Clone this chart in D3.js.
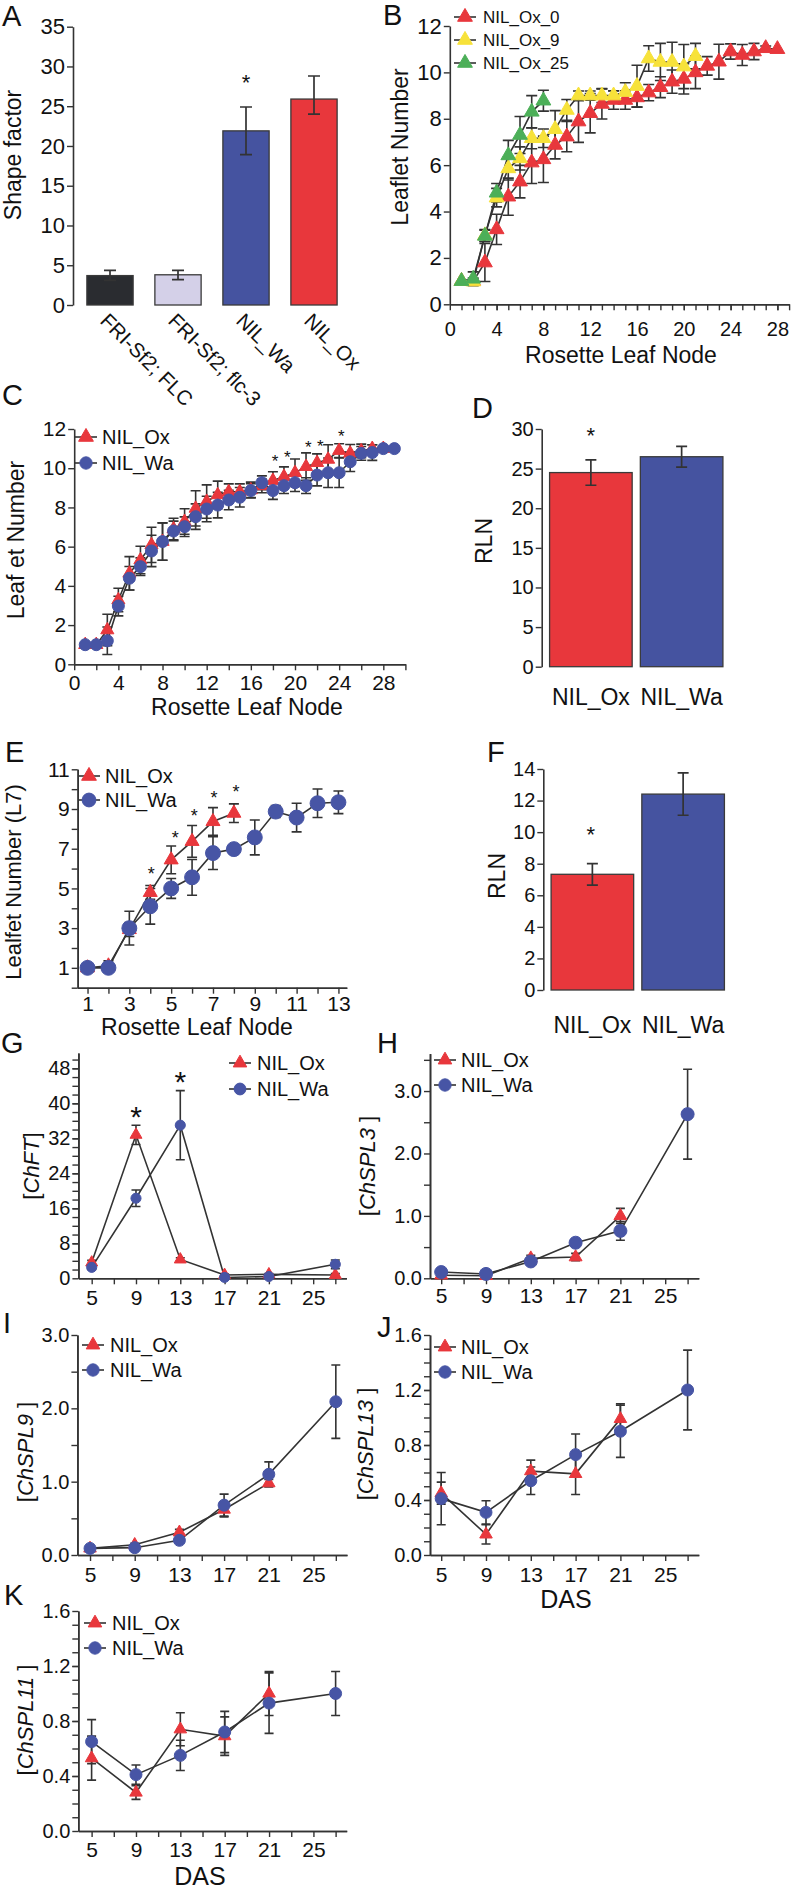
<!DOCTYPE html>
<html><head><meta charset="utf-8">
<script src="https://cdn.jsdelivr.net/npm/d3@7"></script>
<style>
body{margin:0;background:#fff;}
svg{display:block;}
</style></head><body>
<svg id="fig" width="796" height="1897"></svg>
<script>
// ---------------- DATA ----------------
// Panel A
const A_categories = ["FRI-Sf2; FLC", "FRI-Sf2; flc-3", "NIL_Wa", "NIL_Ox"];
const A_values = [3.7, 3.8, 21.9, 25.9];
const A_errLow = [3.1, 3.2, 18.9, 24.0];
const A_errHigh = [4.35, 4.35, 24.9, 28.8];
const A_yTicks = [0, 5, 10, 15, 20, 25, 30, 35];

// Panel B
const B_x0 = [1,2,3,4,5,6,7,8,9,10,11,12,13,14,15,16,17,18,19,20,21,22,23,24,25,26,27,28];
const B_ox0 = [1.0,1.0,1.8,3.23,4.64,5.29,6.11,6.25,6.87,7.23,7.88,8.24,8.64,8.81,8.81,8.92,9.13,9.36,9.6,9.72,10.0,10.28,10.46,10.9,10.75,10.9,11.04,11.0];
const B_ox0_se = [0,0,0.82,0.65,0.8,0.7,0.9,1.0,0.6,0.65,0.9,0.85,0.65,0.4,0.4,0.42,0.35,0.45,0.5,0.65,0.7,0.4,0.75,0.33,0.45,0.35,0.1,0];
const B_x9 = [1,2,3,4,5,6,7,8,9,10,11,12,13,14,15,16,17,18,19,20,21];
const B_ox9 = [1.0,0.98,2.97,4.6,5.86,6.29,7.16,7.16,7.55,8.38,9.0,9.0,9.0,9.0,9.15,9.41,10.6,10.45,10.45,10.25,10.7];
const B_ox9_se = [0,0.15,0.25,0.4,0.5,0.5,0.45,0.4,0.8,0.45,0.2,0.2,0.3,0.2,0.4,0.9,0.55,0.8,0.85,0.95,0.55];
const B_x25 = [1,2,3,4,5,6,7,8];
const B_ox25 = [1.0,1.1,2.95,4.81,6.42,7.3,8.3,8.78];
const B_ox25_se = [0,0.3,0.25,0.4,0.65,0.8,0.7,0.45];
const B_labels = ["NIL_Ox_0", "NIL_Ox_9", "NIL_Ox_25"];

// Panel C
const C_xOx = [1,2,3,4,5,6,7,8,9,10,11,12,13,14,15,16,17,18,19,20,21,22,23,24,25,26,27,28];
const C_ox = [1.0,1.0,1.75,3.28,4.64,5.32,6.09,6.26,6.9,7.28,7.95,8.3,8.64,8.8,8.8,8.89,9.1,9.37,9.57,9.77,10.08,10.28,10.45,10.9,10.76,10.88,11.0,11.0];
const C_ox_se = [0,0,0.8,0.6,0.85,0.7,0.9,0.95,0.55,0.65,0.9,0.85,0.7,0.4,0.4,0.4,0.35,0.45,0.5,0.7,0.7,0.45,0.75,0.35,0.45,0.35,0.2,0];
const C_xWa = [1,2,3,4,5,6,7,8,9,10,11,12,13,14,15,16,17,18,19,20,21,22,23,24,25,26,27,28,29];
const C_wa = [1.0,1.0,1.2,2.97,4.39,4.98,5.78,6.26,6.8,7.02,7.53,7.92,8.12,8.38,8.52,8.86,9.26,8.86,9.11,9.26,9.11,9.65,9.77,9.77,10.33,10.76,10.8,11.0,11.0];
const C_wa_se = [0,0,0.7,0.5,0.6,0.45,0.8,0.95,0.5,0.5,0.65,0.65,0.65,0.5,0.5,0.35,0.35,0.45,0.4,0.45,0.4,0.55,0.75,0.75,0.5,0.35,0.4,0,0];
const C_starX = [18.2, 19.3, 21.2, 22.3, 24.2];
const C_starY = [10.55, 10.76, 11.3, 11.35, 11.86];

// Panel D
const D_categories = ["NIL_Ox", "NIL_Wa"];
const D_values = [24.5, 26.5];
const D_se = [1.6, 1.3];

// Panel E
const E_xOx = [1,2,3,4,5,6,7,8];
const E_ox = [1.0,1.1,2.93,4.8,6.44,7.37,8.37,8.79];
const E_ox_se = [0,0.25,0.35,0.35,0.7,0.8,0.7,0.47];
const E_xWa = [1,2,3,4,5,6,7,8,9,10,11,12,13];
const E_wa = [1.0,1.0,3.0,4.1,5.0,5.56,6.78,6.98,7.57,8.87,8.57,9.29,9.34];
const E_wa_se = [0,0,0.85,0.9,0.5,0.9,0.83,0,0.88,0.3,0.72,0.72,0.57];
const E_starX = [4.05, 5.2, 6.1, 7.05, 8.1];
const E_starY = [5.94, 7.78, 8.87, 9.79, 10.1];

// Panel F
const F_categories = ["NIL_Ox", "NIL_Wa"];
const F_values = [7.33, 12.41];
const F_se = [0.68, 1.34];

// Expression panels (DAS)
const DAS_ox = [5, 9, 13, 17, 21];
const DAS_wa = [5, 9, 13, 17, 21, 27];
const DAS_ticks = [5, 9, 13, 17, 21, 25];
const G_ox = [3.6, 32.8, 4.3, 0.76, 0.9, 0.76];
const G_ox_se = [0.5, 2.2, 0.4, 0.2, 0.2, 0.3];
const G_xOx = [5, 9, 13, 17, 21, 27];
const G_wa = [2.5, 18.3, 35.0, 0.2, 0.4, 3.2];
const G_wa_se = [0.5, 1.9, 7.9, 0.2, 0.2, 1.0];
const G_starX = [9, 13];
const G_starY = [38.5, 46.5];
const H_ox = [0.05, 0.04, 0.32, 0.34, 1.0];
const H_ox_se = [0.02, 0.02, 0.05, 0.06, 0.12];
const H_wa = [0.1, 0.07, 0.27, 0.57, 0.76, 2.63];
const H_wa_se = [0.02, 0.02, 0.03, 0.04, 0.15, 0.72];
const I_ox = [0.09, 0.14, 0.31, 0.62, 0.98];
const I_ox_se = [0.02, 0.02, 0.04, 0.1, 0.05];
const I_wa = [0.09, 0.1, 0.2, 0.68, 1.1, 2.09];
const I_wa_se = [0.02, 0.02, 0.03, 0.15, 0.17, 0.5];
const J_ox = [0.45, 0.15, 0.61, 0.59, 0.99];
const J_ox_se = [0.08, 0.07, 0.08, 0.15, 0.11];
const J_wa = [0.41, 0.31, 0.54, 0.73, 0.9, 1.2];
const J_wa_se = [0.19, 0.085, 0.1, 0.15, 0.19, 0.29];
const K_ox = [0.53, 0.28, 0.74, 0.69, 1.0];
const K_ox_se = [0.16, 0.05, 0.12, 0.14, 0.16];
const K_wa = [0.65, 0.41, 0.55, 0.72, 0.93, 1.0];
const K_wa_se = [0.16, 0.07, 0.11, 0.15, 0.22, 0.16];
const NIL_labels = ["NIL_Ox", "NIL_Wa"];

// ---------------- STYLE ----------------
const FONT = '"Liberation Sans", Arial, Helvetica, sans-serif';
const INK = "#333";
const RED = "#e8373c", BLUE = "#4755a5", YELLOW = "#f7e23a", GREEN = "#4caf58";
const BAR_COLORS_A = ["#2a2c30", "#d4d0e8", "#4553a0", "#e8373c"];
const BAR_COLORS_2 = ["#e8373c", "#4553a0"];

const svg = d3.select("#fig").attr("font-family", FONT);

function styleAxis(sel, fs) {
  sel.attr("font-family", FONT).attr("font-size", fs);
  sel.select(".domain").attr("stroke", INK).attr("stroke-width", 1.6);
  sel.selectAll(".tick line").attr("stroke", INK).attr("stroke-width", 1.4);
  sel.selectAll(".tick text").attr("fill", "#111");
}
function yAxis(g, y, xpx, majors, minors, fmt, fs, pad) {
  if (minors) g.append("g").attr("transform", `translate(${xpx},0)`)
    .call(d3.axisLeft(y).tickValues(minors).tickFormat("").tickSize(6).tickSizeOuter(0)).call(styleAxis, fs);
  g.append("g").attr("transform", `translate(${xpx},0)`)
    .call(d3.axisLeft(y).tickValues(majors).tickFormat(fmt).tickSize(6).tickPadding(pad).tickSizeOuter(0)).call(styleAxis, fs);
}
function xAxis(g, x, ypx, majors, minors, fmt, fs, pad) {
  if (minors) g.append("g").attr("transform", `translate(0,${ypx})`)
    .call(d3.axisBottom(x).tickValues(minors).tickFormat("").tickSize(6).tickSizeOuter(0)).call(styleAxis, fs);
  g.append("g").attr("transform", `translate(0,${ypx})`)
    .call(d3.axisBottom(x).tickValues(majors).tickFormat(fmt).tickSize(6).tickPadding(pad).tickSizeOuter(0)).call(styleAxis, fs);
}
function panelLetter(t, x, y) {
  svg.append("text").attr("x", x).attr("y", y).attr("font-size", 29).attr("fill", "#111").text(t);
}
function yTitle(parts, x, y, fs) {
  const t = svg.append("text").attr("transform", `translate(${x},${y}) rotate(-90)`)
    .attr("text-anchor", "middle").attr("font-size", fs).attr("fill", "#111");
  parts.forEach(p => t.append("tspan").attr("font-style", p[1] ? "italic" : "normal").text(p[0]));
}
function plainText(t, x, y, fs, anchor) {
  svg.append("text").attr("x", x).attr("y", y).attr("font-size", fs).attr("fill", "#111")
    .attr("text-anchor", anchor || "middle").text(t);
}
function star(x, y, fs) {
  svg.append("text").attr("x", x).attr("y", y + 0.58 * fs).attr("font-size", fs)
    .attr("text-anchor", "middle").attr("fill", "#111").text("*");
}
function markerPath(shape, size) {
  return d3.symbol().type(shape === "tri" ? d3.symbolTriangle : d3.symbolCircle).size(size)();
}

function linePanel(c) {
  const x = d3.scaleLinear().domain(c.xd).range(c.xr);
  const y = d3.scaleLinear().domain(c.yd).range(c.yr);
  const g = svg.append("g");
  xAxis(g, x, c.yr[0], c.xMajor, c.xMinor, d3.format("d"), c.xfs, c.xPad);
  yAxis(g, y, c.xr[0], c.yMajor, c.yMinor, c.yFmt, c.yfs, 2);
  const series = c.series.map(s => s.x.map((xv, i) => ({x: xv, v: s.y[i], e: s.se[i], s})));
  series.forEach(pts => {
    g.append("path").datum(pts).attr("fill", "none").attr("stroke", INK).attr("stroke-width", 1.6)
      .attr("d", d3.line().x(d => x(d.x)).y(d => y(d.v)));
  });
  series.forEach(pts => {
    pts.filter(d => d.e > 0).forEach(d => {
      const cx = x(d.x), y1 = y(d.v - d.e), y2 = y(d.v + d.e), w = c.cap / 2;
      g.append("path").attr("fill", "none").attr("stroke", INK).attr("stroke-width", 1.6)
        .attr("d", `M${cx},${y1}V${y2}M${cx - w},${y1}H${cx + w}M${cx - w},${y2}H${cx + w}`);
    });
  });
  series.forEach(pts => {
    g.selectAll(null).data(pts).join("path")
      .attr("transform", d => `translate(${x(d.x)},${y(d.v)})`)
      .attr("d", d => markerPath(d.s.shape, d.s.shape === "tri" ? c.triSize : c.circSize))
      .attr("fill", d => d.s.color).attr("stroke", d => d.s.color).attr("stroke-width", 1)
      .attr("stroke-linejoin", "round");
  });
  if (c.stars) c.stars.x.forEach((sx, i) => star(x(sx), y(c.stars.y[i]), c.stars.fs));
  if (c.legend) {
    c.series.forEach((s, i) => {
      const lx = c.legend.x, ly = c.legend.y + i * c.legend.dy;
      g.append("line").attr("x1", lx - 11).attr("x2", lx + 11).attr("y1", ly).attr("y2", ly)
        .attr("stroke", INK).attr("stroke-width", 1.6);
      g.append("path").attr("transform", `translate(${lx},${ly})`)
        .attr("d", markerPath(s.shape, s.shape === "tri" ? c.legend.tri : c.legend.circ))
        .attr("fill", s.color).attr("stroke", s.color).attr("stroke-linejoin", "round");
      g.append("text").attr("x", lx + c.legend.tx).attr("y", ly).attr("dy", "0.36em")
        .attr("font-size", c.legend.fs).attr("fill", "#111").text(s.label);
    });
  }
  return {x, y};
}

function barPanel(c) {
  const x = d3.scaleBand().domain(c.cats).range(c.xr).paddingInner(c.pi).paddingOuter(c.po);
  const y = d3.scaleLinear().domain(c.yd).range(c.yr);
  const g = svg.append("g");
  yAxis(g, y, c.axisX, c.yMajor, null, d3.format("d"), c.yfs, 2);
  g.selectAll(null).data(c.vals).join("rect")
    .attr("x", (d, i) => x(c.cats[i])).attr("width", x.bandwidth())
    .attr("y", d => y(d)).attr("height", d => y(0) - y(d))
    .attr("fill", (d, i) => c.colors[i]).attr("stroke", "#3a3a3a").attr("stroke-width", 1.3);
  c.vals.forEach((v, i) => {
    const cx = x(c.cats[i]) + x.bandwidth() / 2, y1 = y(c.lo[i]), y2 = y(c.hi[i]), w = c.cap / 2;
    g.append("path").attr("fill", "none").attr("stroke", INK).attr("stroke-width", 1.7)
      .attr("d", `M${cx},${y1}V${y2}M${cx - w},${y1}H${cx + w}M${cx - w},${y2}H${cx + w}`);
  });
  return {x, y};
}

// ---------------- PANEL A ----------------
const pa = barPanel({cats: A_categories, vals: A_values, lo: A_errLow, hi: A_errHigh,
  colors: BAR_COLORS_A, xr: [76, 348], pi: 0.32, po: 0.16, yd: [0, 35], yr: [305, 26.7],
  axisX: 73, yMajor: A_yTicks, yfs: 22, cap: 12});
A_categories.forEach((t, i) => {
  const cx = pa.x(t) + pa.x.bandwidth() / 2;
  svg.append("text").attr("transform", `translate(${cx - 11},322) rotate(45)`)
    .attr("font-size", 20.5).attr("fill", "#111").text(t);
});
star(pa.x("NIL_Wa") + pa.x.bandwidth() / 2, 77, 22);
panelLetter("A", 2, 26);
yTitle([["Shape factor", false]], 21, 155, 23);

// ---------------- PANEL B ----------------
linePanel({xd: [0, 29], xr: [449.8, 789.1], yd: [0, 12], yr: [304.3, 26],
  xMajor: [0, 4, 8, 12, 16, 20, 24, 28], xMinor: d3.range(1, 30), yMajor: [0, 2, 4, 6, 8, 10, 12], yMinor: null,
  yFmt: d3.format("d"), xfs: 20, yfs: 22, xPad: 12, cap: 11, triSize: 95, circSize: 110,
  series: [
    {x: B_x0, y: B_ox0, se: B_ox0_se, color: RED, shape: "tri", label: B_labels[0]},
    {x: B_x9, y: B_ox9, se: B_ox9_se, color: YELLOW, shape: "tri", label: B_labels[1]},
    {x: B_x25, y: B_ox25, se: B_ox25_se, color: GREEN, shape: "tri", label: B_labels[2]}],
  legend: {x: 465, y: 17, dy: 23, tx: 18, fs: 17, tri: 95, circ: 100}});
panelLetter("B", 383, 25);
yTitle([["Leaflet Number", false]], 408, 147, 23);
plainText("Rosette Leaf Node", 621, 363, 23);

// ---------------- PANEL C ----------------
linePanel({xd: [0, 30], xr: [74.2, 405.4], yd: [0, 12], yr: [664.3, 429],
  xMajor: [0, 4, 8, 12, 16, 20, 24, 28], xMinor: [2, 6, 10, 14, 18, 22, 26, 30], yMajor: [0, 2, 4, 6, 8, 10, 12], yMinor: null,
  yFmt: d3.format("d"), xfs: 21, yfs: 21, xPad: 5, cap: 10, triSize: 75, circSize: 113,
  series: [
    {x: C_xOx, y: C_ox, se: C_ox_se, color: RED, shape: "tri", label: NIL_labels[0]},
    {x: C_xWa, y: C_wa, se: C_wa_se, color: BLUE, shape: "circle", label: NIL_labels[1]}],
  stars: {x: C_starX, y: C_starY, fs: 17},
  legend: {x: 86, y: 437, dy: 26, tx: 16, fs: 20, tri: 95, circ: 120}});
panelLetter("C", 2, 405);
yTitle([["Leaf et Number", false]], 24, 540, 23);
plainText("Rosette Leaf Node", 247, 715, 23);

// ---------------- PANEL D ----------------
const pd = barPanel({cats: D_categories, vals: D_values, lo: D_values.map((v, i) => v - D_se[i]),
  hi: D_values.map((v, i) => v + D_se[i]), colors: BAR_COLORS_2, xr: [545.5, 727], pi: 0.09, po: 0.045,
  yd: [0, 30], yr: [666.7, 429], axisX: 541.7, yMajor: [0, 5, 10, 15, 20, 25, 30], yfs: 20, cap: 11});
D_categories.forEach(t => plainText(t, pd.x(t) + pd.x.bandwidth() / 2, 705, 23));
star(590.7, 430, 22);
panelLetter("D", 472, 418);
yTitle([["RLN", false]], 492, 541, 23);

// ---------------- PANEL E ----------------
linePanel({xd: [0.53, 13.4], xr: [77.7, 346.8], yd: [0, 11], yr: [987.7, 769.3],
  xMajor: [1, 3, 5, 7, 9, 11, 13], xMinor: [2, 4, 6, 8, 10, 12], yMajor: [1, 3, 5, 7, 9, 11], yMinor: [0, 2, 4, 6, 8, 10],
  yFmt: d3.format("d"), xfs: 21, yfs: 21, xPad: 2, cap: 10, triSize: 85, circSize: 175,
  series: [
    {x: E_xOx, y: E_ox, se: E_ox_se, color: RED, shape: "tri", label: NIL_labels[0]},
    {x: E_xWa, y: E_wa, se: E_wa_se, color: BLUE, shape: "circle", label: NIL_labels[1]}],
  stars: {x: E_starX, y: E_starY, fs: 18},
  legend: {x: 89, y: 776, dy: 24, tx: 16, fs: 20, tri: 95, circ: 150}});
panelLetter("E", 5, 762);
yTitle([["Lealfet Number (L7)", false]], 21, 882, 22);
plainText("Rosette Leaf Node", 197, 1035, 23);

// ---------------- PANEL F ----------------
const pf = barPanel({cats: F_categories, vals: F_values, lo: F_values.map((v, i) => v - F_se[i]),
  hi: F_values.map((v, i) => v + F_se[i]), colors: BAR_COLORS_2, xr: [547, 728.5], pi: 0.09, po: 0.045,
  yd: [0, 14], yr: [990, 769], axisX: 543.3, yMajor: [0, 2, 4, 6, 8, 10, 12, 14], yfs: 20, cap: 11});
F_categories.forEach(t => plainText(t, pf.x(t) + pf.x.bandwidth() / 2, 1033, 23));
star(590.7, 829, 22);
panelLetter("F", 487, 762);
yTitle([["RLN", false]], 505, 876, 23);

// ---------------- PANELS G-K ----------------
const dasMinor = [7, 11, 15, 19, 23, 27];
function dasPanel(o) {
  return linePanel(Object.assign({xd: [3.8, 28], xMajor: DAS_ticks, xMinor: dasMinor,
    xfs: 21, yfs: 20, cap: 9, triSize: 68, circSize: 113}, o));
}
dasPanel({xr: [78.4, 346.4], yd: [0, 51.5], yr: [1278.3, 1053],
  yMajor: [0, 8, 16, 24, 32, 40, 48], yMinor: d3.range(2, 51, 2), yFmt: d3.format("d"), xPad: 6, circSize: 80, triSize: 62,
  series: [
    {x: G_xOx, y: G_ox, se: G_ox_se, color: RED, shape: "tri", label: NIL_labels[0]},
    {x: DAS_wa, y: G_wa, se: G_wa_se, color: BLUE, shape: "circle", label: NIL_labels[1]}],
  stars: {x: G_starX, y: G_starY, fs: 30},
  legend: {x: 240, y: 1063, dy: 26, tx: 17, fs: 20, tri: 80, circ: 110}});
panelLetter("G", 1, 1053);
yTitle([["[", false], ["ChFT", true], ["]", false]], 39, 1166, 22);

dasPanel({xd: [4, 28], xr: [430, 698.8], yd: [0, 3.6], yr: [1278.3, 1053.6],
  yMajor: [0, 1, 2, 3], yMinor: [0.5, 1.5, 2.5, 3.5], yFmt: d3.format(".1f"), xPad: 4, circSize: 133, triSize: 72,
  series: [
    {x: DAS_ox, y: H_ox, se: H_ox_se, color: RED, shape: "tri", label: NIL_labels[0]},
    {x: DAS_wa, y: H_wa, se: H_wa_se, color: BLUE, shape: "circle", label: NIL_labels[1]}],
  legend: {x: 445, y: 1060, dy: 25, tx: 16, fs: 20, tri: 80, circ: 120}});
panelLetter("H", 377, 1053);
yTitle([["[", false], ["ChSPL3", true], [" ]", false]], 375, 1166, 22);

dasPanel({xd: [3.87, 28], xr: [77.4, 347], yd: [0, 3.0], yr: [1555, 1335],
  yMajor: [0, 1, 2, 3], yMinor: [0.5, 1.5, 2.5], yFmt: d3.format(".1f"), xPad: 6,
  series: [
    {x: DAS_ox, y: I_ox, se: I_ox_se, color: RED, shape: "tri", label: NIL_labels[0]},
    {x: DAS_wa, y: I_wa, se: I_wa_se, color: BLUE, shape: "circle", label: NIL_labels[1]}],
  legend: {x: 93, y: 1345, dy: 25, tx: 17, fs: 20, tri: 80, circ: 120}});
panelLetter("I", 3, 1333);
yTitle([["[", false], ["ChSPL9", true], [" ]", false]], 33, 1452, 22);

dasPanel({xd: [4, 28], xr: [430, 698.8], yd: [0, 1.6], yr: [1555, 1335],
  yMajor: [0, 0.4, 0.8, 1.2, 1.6], yMinor: d3.range(1, 16).map(v => v / 10), yFmt: d3.format(".1f"), xPad: 6,
  series: [
    {x: DAS_ox, y: J_ox, se: J_ox_se, color: RED, shape: "tri", label: NIL_labels[0]},
    {x: DAS_wa, y: J_wa, se: J_wa_se, color: BLUE, shape: "circle", label: NIL_labels[1]}],
  legend: {x: 445, y: 1347, dy: 25, tx: 16, fs: 20, tri: 80, circ: 120}});
panelLetter("J", 377, 1337);
yTitle([["[", false], ["ChSPL13", true], [" ]", false]], 373, 1444, 22);
plainText("DAS", 566, 1608, 25);

dasPanel({xr: [78.3, 346.7], yd: [0, 1.6], yr: [1831, 1611],
  yMajor: [0, 0.4, 0.8, 1.2, 1.6], yMinor: d3.range(1, 16).map(v => v / 10), yFmt: d3.format(".1f"), xPad: 5,
  series: [
    {x: DAS_ox, y: K_ox, se: K_ox_se, color: RED, shape: "tri", label: NIL_labels[0]},
    {x: DAS_wa, y: K_wa, se: K_wa_se, color: BLUE, shape: "circle", label: NIL_labels[1]}],
  legend: {x: 95, y: 1623, dy: 25, tx: 17, fs: 20, tri: 80, circ: 120}});
panelLetter("K", 4, 1605);
yTitle([["[", false], ["ChSPL11", true], [" ]", false]], 33, 1720, 22);
plainText("DAS", 200, 1885, 25);
</script>
</body></html>
